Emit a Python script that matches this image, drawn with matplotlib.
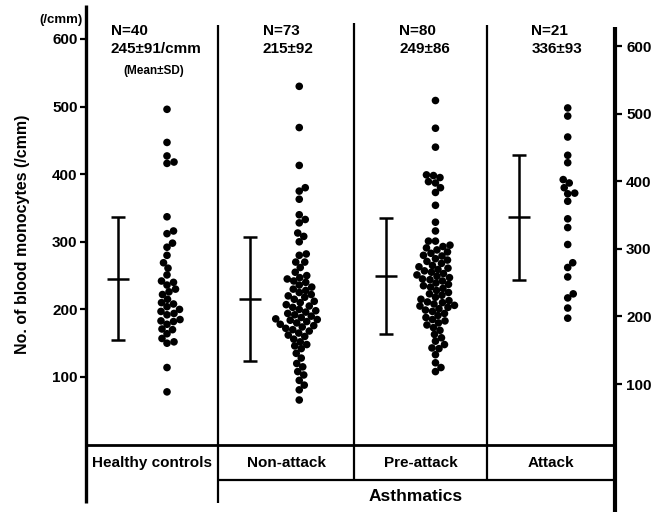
import matplotlib
matplotlib.use("Agg")
import matplotlib.pyplot as plt
import numpy as np

plt.rcParams['font.family'] = ['Liberation Sans', 'DejaVu Sans']

# ---------------- data ----------------
groups = ["Healthy controls", "Non-attack", "Pre-attack", "Attack"]
n_labels = ["N=40", "N=73", "N=80", "N=21"]
stat_labels = ["245±91/cmm", "215±92", "249±86", "336±93"]
means = [245, 215, 249, 336]
sds = [91, 92, 86, 93]

healthy = [496, 447, 427, 418, 416, 337, 316, 312, 298, 292, 280, 269, 261, 251,
           242, 240, 236, 230, 226, 222, 215, 210, 208, 204, 200, 197, 194, 192,
           185, 183, 182, 178, 171, 170, 164, 157, 152, 150, 114, 78]
non_attack = [530, 469, 413, 380, 375, 363, 340, 333, 328, 313, 308, 300, 282, 280,
              270, 270, 262, 255,
              250, 247, 245, 242, 240, 236, 233, 230, 228, 225, 222, 220, 218, 215,
              212, 210, 207, 205, 203, 200,
              198, 196, 194, 192, 190, 188, 186, 185, 184, 182, 180, 178, 176, 174,
              172, 170, 168, 165, 162, 160,
              156, 152, 148, 146, 142, 135, 128, 120, 115, 108, 103, 95, 88, 81, 66]
pre_attack = [509, 468, 440, 399, 398, 395, 389, 387, 380, 373, 354, 329, 316, 301, 301,
              295, 293, 291, 288, 285, 283, 280, 279, 275, 273, 271, 268, 265, 263,
              261, 259, 257, 255, 253,
              251, 249, 247, 245, 244, 242, 239, 237, 235, 233, 231, 228, 225, 223,
              221, 218, 215, 213, 211, 210, 208, 206, 205, 203,
              201, 199, 197, 194, 191, 188, 185, 183, 180, 177, 173, 169,
              163, 158, 153, 148, 143, 142, 133, 121, 114, 108]
attack = [498, 486, 455, 428, 417, 392, 387, 380, 372, 371, 360, 334, 321, 296,
          269, 262, 248, 223, 217, 202, 187]
series = [healthy, non_attack, pre_attack, attack]

yticks = [100, 200, 300, 400, 500, 600]

# ---------------- layout ----------------
W, H, DPI = 660, 514, 100
fig = plt.figure(figsize=(W / DPI, H / DPI), dpi=DPI)
ax_l, ax_r = 86, 615          # pixel x of axes
ax_b, ax_t = 444.6, 5.2       # pixel y of value 0 / top
ax = fig.add_axes([ax_l / W, (H - ax_b) / H, (ax_r - ax_l) / W, (ax_b - ax_t) / H])
YMAX = 650
ax.set_xlim(0, 4)
ax.set_ylim(0, YMAX)
for s in ax.spines.values():
    s.set_visible(False)
ax.set_xticks([])
ax.set_yticks(yticks)
ax.tick_params(axis='y', direction='out', length=4, width=1.6, pad=2,
               labelsize=11)
for t in ax.get_yticklabels():
    t.set_fontweight('bold')

px_x = (ax_r - ax_l) / 4.0
px_y = (ax_b - ax_t) / YMAX

def px2x(p):
    return p / px_x

def px2y(p):
    return p / px_y

bounds = [0, 1, 2.03, 3.03, 4]
lw_axis = 2.4
lw_div = 1.6
kw = dict(color='black', clip_on=False, solid_capstyle='butt')

# axes lines
ax.plot([0, 0], [-86, YMAX], lw=lw_axis, **kw)
ax.plot([4, 4], [-100, 618], lw=lw_axis + 0.6, **kw)
ax.plot([bounds[1]] * 2, [-86, 620], lw=lw_div, **kw)
ax.plot([bounds[2]] * 2, [-52, 624], lw=lw_div, **kw)
ax.plot([bounds[3]] * 2, [-52, 620], lw=lw_div, **kw)
ax.plot([0, 4], [0, 0], lw=lw_div + 0.4, **kw)
ax.plot([bounds[1], 4], [-52, -52], lw=lw_div, **kw)

# right axis
twin = ax.twinx()
twin.set_ylim(10.4, YMAX + 10.4)
for s in twin.spines.values():
    s.set_visible(False)
twin.set_yticks(yticks)
twin.tick_params(axis='y', direction='out', length=5, width=1.6, pad=3,
                 labelsize=11)
for t in twin.get_yticklabels():
    t.set_fontweight('bold')


def swarm_offsets(values, d_px):
    vals = np.asarray(values, float)
    order = np.argsort(vals)
    placed = []
    offs = np.zeros(len(vals))
    for i in order:
        y = vals[i] * px_y
        chosen = 0.0
        for k in range(0, 400):
            cands = [0.0] if k == 0 else [k * 0.5, -k * 0.5]
            found = False
            for c in cands:
                if all((c - px) ** 2 + (y - py) ** 2 >= d_px ** 2 for px, py in placed):
                    chosen = c
                    found = True
                    break
            if found:
                break
        placed.append((chosen, y))
        offs[i] = chosen
    return offs

dot_d = 7.6
for i, vals in enumerate(series):
    b = bounds[i]
    xc = b + px2x(81)
    offs = swarm_offsets(vals, 6.8)
    ax.scatter(xc + px2x(offs), vals, s=(dot_d * 72 / DPI) ** 2, color='black',
               edgecolors='none', zorder=3, clip_on=False)
    xe = b + px2x(32)
    ax.errorbar([xe], [means[i]], yerr=[sds[i]], fmt='_', color='black',
                markersize=16.5, mew=1.8, elinewidth=1.8, capsize=4.7,
                capthick=1.8)
    # header
    ax.text(b + 0.53, px2y(ax_b - 40), n_labels[i] + "\n" + stat_labels[i],
            ha='center', va='center', multialignment='left', fontsize=11,
            fontweight='bold', linespacing=1.35, clip_on=False)
    # group label
    ax.text((bounds[i] + bounds[i + 1]) / 2, -27, groups[i], ha='center',
            va='center', fontsize=11, fontweight='bold', clip_on=False)

ax.text(0.514, px2y(ax_b - 71), "(Mean±SD)", ha='center', va='center',
        fontsize=8.5, fontweight='bold')
ax.text(px2x(-3), px2y(ax_b - 20), "(/cmm)", ha='right', va='center',
        fontsize=9.5, fontweight='bold', clip_on=False)
ax.text(2.49, -77.5, "Asthmatics", ha='center', va='center', fontsize=12.5,
        fontweight='bold', clip_on=False)
ax.text(px2x(23 - 86), px2y(ax_b - 234), "No. of blood monocytes (/cmm)",
        rotation=90, ha='center', va='center', fontsize=11.5,
        fontweight='bold', clip_on=False)

fig.savefig("out.png", dpi=DPI)
